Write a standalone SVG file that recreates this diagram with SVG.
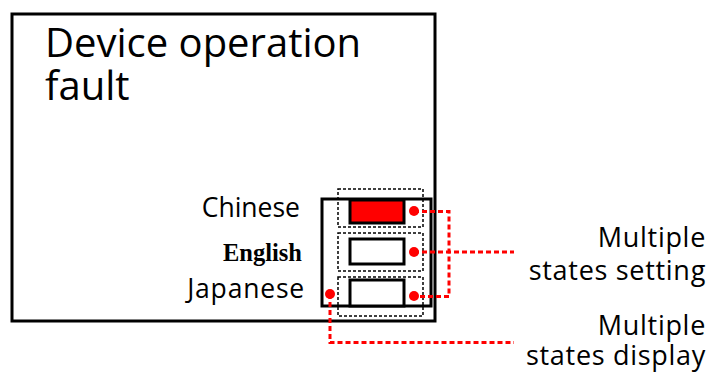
<svg xmlns="http://www.w3.org/2000/svg" width="712" height="372" viewBox="0 0 712 372">
<style>
.t{font-family:"Open Sans","Noto Sans","DejaVu Sans",sans-serif;fill:#000}
.big{font-size:40px}
.lab{font-size:26.5px}
.rl{font-size:27px;letter-spacing:0.7px}
.en{font-family:"Liberation Serif","Times New Roman",serif;font-weight:bold;font-size:24.5px;fill:#000}
.box{fill:none;stroke:#000;stroke-width:3}
.dot{fill:none;stroke:#000;stroke-width:1.5;stroke-dasharray:3 2}
.btn{fill:#fff;stroke:#000;stroke-width:3}
.rd{fill:none;stroke:#f00;stroke-width:3;stroke-dasharray:5 3}
.pt{fill:#f00}
</style>
<g id="screen">
<rect class="box" x="12" y="14" width="423" height="307"/>
<text class="t big" x="45" y="57">Device operation</text>
<text class="t big" x="45" y="100">fault</text>
</g>
<g id="selector">
<rect class="box" x="322" y="199" width="109" height="107"/>
<rect class="dot" x="338" y="189" width="85" height="38"/>
<rect class="dot" x="338" y="233" width="85" height="38"/>
<rect class="dot" x="338" y="277" width="85" height="39"/>
</g>
<g id="btn-chinese">
<rect class="btn" x="350" y="200" width="54" height="23" style="fill:#f00"/>
<text class="t lab" x="300" y="217" text-anchor="end">Chinese</text>
</g>
<g id="btn-english">
<rect class="btn" x="350" y="239" width="54" height="25"/>
<text class="en" x="302" y="261" text-anchor="end">English</text>
</g>
<g id="btn-japanese">
<rect class="btn" x="350" y="280" width="54" height="26"/>
<text class="t lab" x="305" y="298" text-anchor="end" letter-spacing="0.8">Japanese</text>
</g>
<g id="label-setting">
<text class="t rl" x="706" y="247" text-anchor="end">Multiple</text>
<text class="t rl" x="706" y="280" text-anchor="end">states setting</text>
</g>
<g id="label-display">
<text class="t rl" x="706" y="335" text-anchor="end">Multiple</text>
<text class="t rl" x="706" y="365" text-anchor="end">states display</text>
</g>
<g id="connectors">
<polyline class="rd" points="414,211.5 449,211.5 449,296.5 414,296.5"/>
<line class="rd" x1="414" y1="252" x2="514" y2="252"/>
<polyline class="rd" points="330,294 330,342.5 514,342.5"/>
<circle class="pt" cx="414" cy="211" r="5"/>
<circle class="pt" cx="414" cy="252" r="5"/>
<circle class="pt" cx="414" cy="296" r="5"/>
<circle class="pt" cx="330" cy="294" r="5"/>
</g>
</svg>
